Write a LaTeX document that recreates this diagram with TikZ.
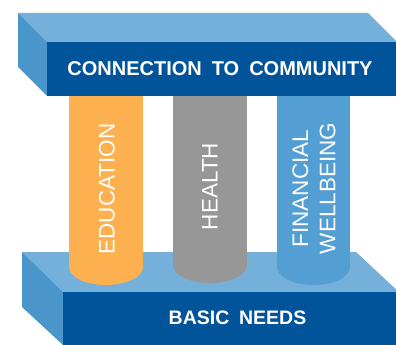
\documentclass[tikz,border=0pt]{standalone}
\usepackage{fontspec}
\setmainfont{Liberation Sans}
\definecolor{slabtop}{HTML}{74B0DA}
\definecolor{slabfront}{HTML}{02549A}
\definecolor{slabside}{HTML}{4A96CA}
\definecolor{pillarorange}{HTML}{FDB04F}
\definecolor{pillargrey}{HTML}{979797}
\definecolor{pillarblue}{HTML}{539FD3}
\begin{document}
\begin{tikzpicture}[x=1pt,y=-1pt,
  slablabel/.style={text=white,inner sep=0pt,font=\fontsize{20}{24}\selectfont\bfseries},
  pillarlabel/.style={text=white,inner sep=0pt,rotate=90,align=center,font=\fontsize{22.5}{27.5}\selectfont}]
\clip (0,0) rectangle (396,345);
% base slab
\fill[slabtop] (22,252) -- (356,252) -- (400,293) -- (63,292) -- cycle;
\fill[slabside] (22,252) -- (63,292) -- (63,345) -- (22,307) -- cycle;
% pillars
\fill[pillarorange] (69,90) rectangle (143,267);
\fill[pillarorange] (106,267) ellipse [x radius=37, y radius=18];
\fill[pillargrey] (173,90) rectangle (247,265);
\fill[pillargrey] (210,265) ellipse [x radius=37, y radius=18];
\fill[pillarblue] (277,90) rectangle (350,267);
\fill[pillarblue] (313.5,267) ellipse [x radius=36.5, y radius=18];
% base front
\fill[slabfront] (63,292) rectangle (396,345);
% top slab
\fill[slabtop] (18,13) -- (368,13) -- (400,45) -- (47,42) -- cycle;
\fill[slabside] (18,13) -- (47,42) -- (47,96) -- (18,67) -- cycle;
\fill[slabfront] (47,42) rectangle (396,96);
% labels
\node[slablabel] (community) at (220,69) {CONNECTION\hspace{0.5em}TO\hspace{0.5em}COMMUNITY};
\node[slablabel,font=\fontsize{19.5}{24}\selectfont\bfseries] (needs) at (237.5,318) {BASIC\hspace{0.5em}NEEDS};
\node[pillarlabel] (education) at (107,189) {EDUCATION};
\node[pillarlabel] (health) at (210,186.5) {HEALTH};
\node[pillarlabel] (financial) at (314,188.5) {FINANCIAL\\WELLBEING};
\end{tikzpicture}
\end{document}
